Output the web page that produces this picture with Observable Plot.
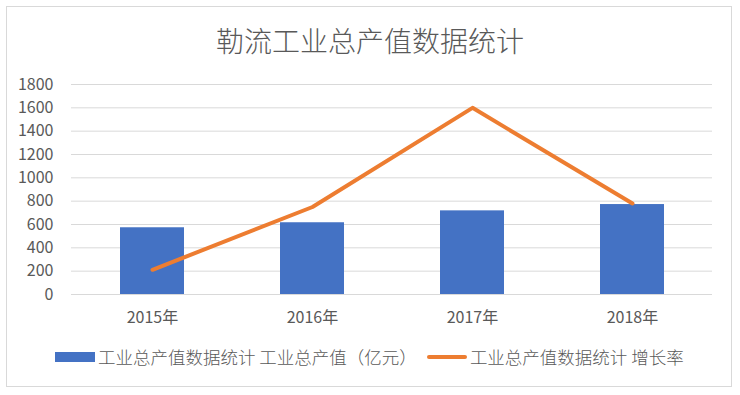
<!DOCTYPE html>
<html>
<head>
<meta charset="utf-8">
<script src="https://cdn.jsdelivr.net/npm/d3@7"></script>
<script src="https://cdn.jsdelivr.net/npm/@observablehq/plot@0.6"></script>
<style>
  html, body { margin: 0; padding: 0; background: #fff; }
  #wrap { position: relative; width: 740px; height: 395px; overflow: hidden;
          font-family: "Noto Sans CJK SC", "Noto Sans", sans-serif; color: #595959; }
  #frame { position: absolute; left: 6px; top: 6px; width: 726px; height: 381px;
           border: 1px solid #d9d9d9; box-sizing: border-box; }
  #title { position: absolute; left: 0; top: 22px; width: 740px; text-align: center;
           font-size: 28px; line-height: 36px; color: #595959; font-weight: 300; }
  #chart { position: absolute; left: 0; top: 0; }
  #legend { position: absolute; top: 345px; left: 55px; display: flex; align-items: center;
            font-size: 17.5px; line-height: 24px; color: #595959; white-space: nowrap; font-weight: 300; }
  .sw-bar { display: inline-block; width: 40px; height: 10px; background: #4472c4; margin-right: 3px; }
  .sw-line { display: inline-block; width: 40px; height: 4px; background: #ed7d31; border-radius: 2px; margin-right: 3px; margin-left: 10px; }
</style>
</head>
<body>
<div id="wrap">
  <div id="frame"></div>
  <div id="chart"></div>
  <div id="title">勒流工业总产值数据统计</div>
  <div id="legend"></div>
</div>
<script>
const categories = ["2015年", "2016年", "2017年", "2018年"];
const outputValues = [572, 615, 717, 771];
const growthValues = [212, 750, 1600, 780];
const yTicks = [0, 200, 400, 600, 800, 1000, 1200, 1400, 1600, 1800];
const seriesNames = ["工业总产值数据统计 工业总产值（亿元）", "工业总产值数据统计 增长率"];

const data = categories.map((c, i) => ({cat: c, output: outputValues[i], growth: growthValues[i]}));

const chart = Plot.plot({
  width: 740,
  height: 395,
  marginLeft: 71,
  marginRight: 28,
  marginTop: 84,
  marginBottom: 101,
  style: {fontFamily: "'Noto Sans CJK SC', 'Noto Sans', sans-serif", fontSize: "16px", color: "#595959", background: "transparent", overflow: "visible"},
  x: {domain: categories, paddingInner: 0.6, paddingOuter: 0.3, label: null},
  y: {domain: [0, 1800], ticks: yTicks, label: null},
  marks: [
    Plot.gridY(yTicks, {stroke: "#d9d9d9", strokeOpacity: 1, strokeWidth: 1}),
    Plot.barY(data, {x: "cat", y: "output", fill: "#4472c4"}),
    Plot.ruleY([0], {stroke: "#d9d9d9", strokeWidth: 1}),
    Plot.line(data, {x: "cat", y: "growth", stroke: "#ed7d31", strokeWidth: 4, strokeLinecap: "round", strokeLinejoin: "round"}),
    Plot.axisY(yTicks, {tickSize: 0, tickPadding: 18, fontSize: 16, fill: "#595959", tickFormat: d => String(d)}),
    Plot.axisX({tickSize: 0, tickPadding: 17, fontSize: 16, fill: "#595959"})
  ]
});
document.getElementById("chart").appendChild(chart);

const legend = document.getElementById("legend");
legend.innerHTML =
  `<span class="sw-bar"></span><span>${seriesNames[0]}</span>` +
  `<span class="sw-line"></span><span>${seriesNames[1]}</span>`;
</script>
</body>
</html>
